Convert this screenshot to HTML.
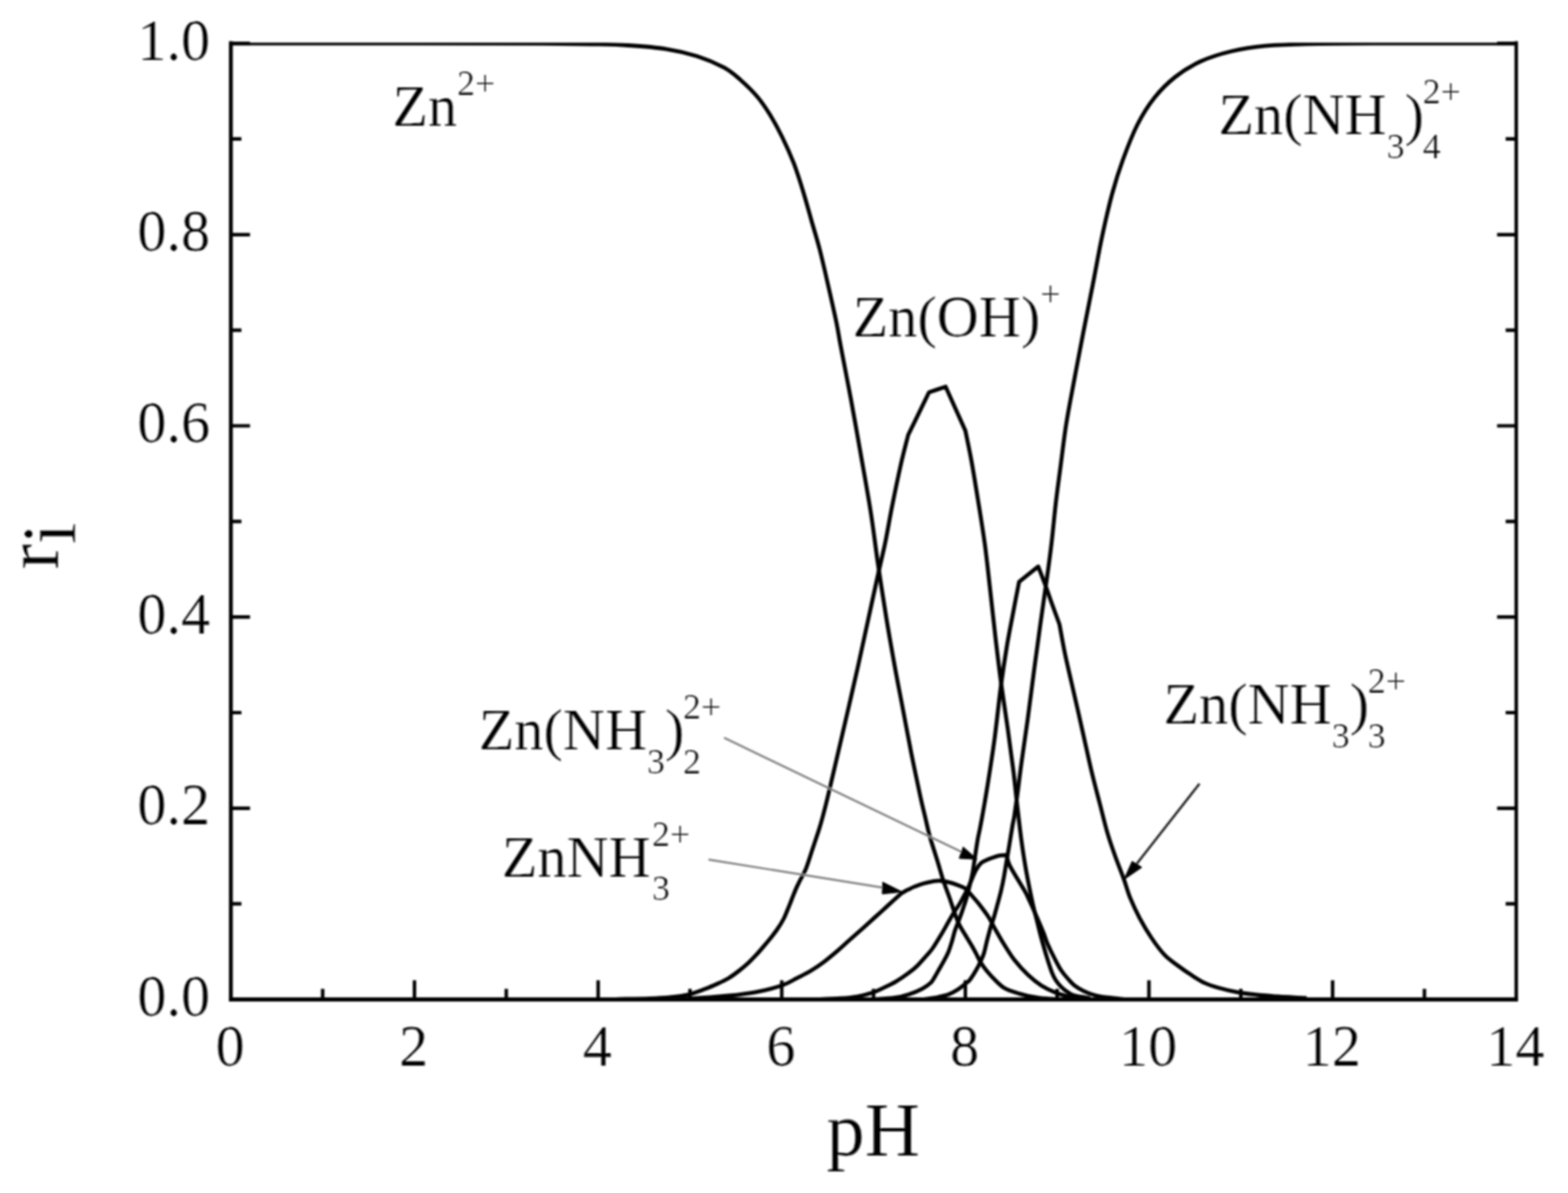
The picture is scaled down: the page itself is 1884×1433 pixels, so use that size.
<!DOCTYPE html>
<html lang="en">
<head>
<meta charset="utf-8">
<title>Zinc species distribution versus pH</title>
<style>
html,body{margin:0;padding:0;background:#fff;}
body{width:1884px;height:1433px;overflow:hidden;}
svg{display:block;}
text{font-family:"Liberation Serif","Times New Roman",serif;fill:#000;stroke:#fff;stroke-width:0.2;}
.t{font-size:70px;}
.s{font-size:43px;}
.a{font-size:92px;}
.c{fill:none;stroke:#000;stroke-width:4.8;stroke-linejoin:round;stroke-linecap:butt;}
.ax{fill:none;stroke:#000;stroke-linecap:butt;}
.ar{fill:none;stroke:#555;stroke-width:2.4;}
</style>
</head>
<body>
<svg xmlns="http://www.w3.org/2000/svg" width="1884" height="1433" viewBox="0 0 1884 1433">
<rect x="0" y="0" width="1884" height="1433" fill="#fff"/>
<defs><filter id="b" x="-2%" y="-2%" width="104%" height="104%"><feGaussianBlur stdDeviation="1.2"/></filter></defs>
<g filter="url(#b)">
<clipPath id="cp"><rect x="277.4" y="51.3" width="1544.4" height="1152.2"/></clipPath>
<g clip-path="url(#cp)">
<path class="c" d="M270.0 52.1C308.3 52.1 436.7 52.1 500.0 52.1C563.3 52.1 615.0 52.2 650.0 52.4C685.0 52.5 692.5 52.6 710.0 53.0C727.5 53.4 740.0 53.5 755.0 54.5C770.0 55.5 786.2 56.6 800.0 58.8C813.8 60.9 825.8 63.8 837.5 67.5C849.2 71.2 861.2 76.5 870.0 81.2C878.8 86.0 883.3 90.4 890.0 96.2C896.7 102.1 904.2 109.4 910.0 116.2C915.8 123.1 920.0 129.4 925.0 137.5C930.0 145.6 935.2 155.2 940.0 165.0C944.8 174.8 949.6 185.4 953.8 196.2C957.9 207.1 961.5 218.5 965.0 230.0C968.5 241.5 971.7 253.3 975.0 265.0C978.3 276.7 981.7 287.1 985.0 300.0C988.3 312.9 991.7 327.9 995.0 342.5C998.3 357.1 1002.5 375.4 1005.0 387.5C1007.5 399.6 1007.1 399.6 1010.0 415.0C1012.9 430.4 1018.3 457.5 1022.5 480.0C1026.7 502.5 1031.0 527.5 1035.0 550.0C1039.0 572.5 1042.9 593.7 1046.2 615.0C1049.6 636.3 1051.9 656.8 1055.0 678.0C1058.1 699.2 1061.7 722.2 1065.0 742.5C1068.3 762.8 1071.7 781.7 1075.0 800.0C1078.3 818.3 1081.7 835.0 1085.0 852.5C1088.3 870.0 1091.5 887.5 1095.0 905.0C1098.5 922.5 1103.2 944.5 1106.0 957.5C1108.8 970.5 1110.2 975.2 1112.0 983.0C1113.8 990.8 1114.7 995.7 1117.0 1004.0C1119.3 1012.3 1123.2 1024.0 1126.0 1033.0C1128.8 1042.0 1131.0 1050.4 1133.5 1058.0C1136.0 1065.6 1138.6 1071.8 1141.0 1078.7C1143.4 1085.7 1146.1 1094.2 1148.1 1099.7C1150.1 1105.2 1151.0 1107.5 1152.9 1111.4C1154.9 1115.3 1157.3 1118.9 1159.8 1123.1C1162.3 1127.2 1165.6 1132.5 1167.8 1136.3C1170.0 1140.1 1171.3 1142.6 1173.1 1146.0C1174.9 1149.4 1176.4 1153.0 1178.6 1156.5C1180.8 1160.0 1183.4 1163.5 1186.5 1167.2C1189.6 1170.9 1194.1 1175.7 1197.2 1178.8C1200.3 1181.9 1202.4 1183.9 1205.1 1185.7C1207.8 1187.5 1210.0 1188.5 1213.1 1189.8C1216.2 1191.0 1220.2 1192.2 1223.7 1193.2C1227.2 1194.2 1229.9 1195.1 1234.3 1196.0C1238.7 1196.9 1243.2 1198.0 1250.0 1198.8C1256.8 1199.5 1270.8 1200.2 1275.0 1200.5"/>
<path class="c" d="M740.0 1200.3C746.7 1200.1 769.2 1199.7 780.0 1199.3C790.8 1198.9 797.0 1198.6 805.0 1197.8C813.0 1197.0 820.7 1196.2 827.8 1194.5C834.9 1192.8 841.6 1190.0 847.6 1187.8C853.6 1185.5 858.9 1183.1 863.5 1181.0C868.1 1178.9 871.4 1177.4 875.4 1175.0C879.4 1172.6 883.4 1169.6 887.4 1166.5C891.4 1163.4 895.5 1160.0 899.3 1156.5C903.1 1153.0 906.2 1149.6 910.0 1145.5C913.8 1141.4 917.8 1136.5 921.8 1131.7C925.8 1126.9 930.4 1121.2 933.7 1116.5C937.0 1111.8 939.6 1107.5 941.7 1103.5C943.8 1099.5 944.8 1096.3 946.4 1092.5C948.0 1088.7 949.6 1084.5 951.2 1080.5C952.8 1076.5 954.5 1072.1 956.0 1068.5C957.5 1064.9 958.5 1063.1 960.5 1059.0C962.5 1054.9 965.7 1050.2 968.3 1043.7C970.9 1037.2 973.6 1027.8 976.3 1019.8C978.9 1011.8 982.1 1002.5 984.2 995.9C986.3 989.3 987.1 986.4 988.8 980.0C990.5 973.6 991.5 970.0 994.5 957.5C997.5 945.0 1002.7 922.5 1006.8 905.0C1010.9 887.5 1015.0 870.0 1019.0 852.5C1023.0 835.0 1027.0 817.9 1031.0 800.0C1035.0 782.1 1039.0 763.3 1043.0 745.0C1047.0 726.7 1051.5 705.8 1055.0 690.0C1058.5 674.2 1061.2 663.8 1064.0 650.0C1066.8 636.2 1068.9 622.9 1072.0 607.5C1075.1 592.1 1079.3 571.7 1082.5 557.5C1085.7 543.3 1089.8 528.3 1091.2 522.5C1095.4 514.0 1112.1 479.8 1116.2 471.2C1119.6 470.1 1132.9 465.6 1136.2 464.5C1140.2 473.3 1156.0 508.7 1160.0 517.5C1161.2 523.8 1164.9 540.4 1167.5 555.0C1170.1 569.6 1173.1 588.3 1175.8 605.0C1178.5 621.7 1181.2 637.9 1183.5 655.0C1185.8 672.1 1187.5 689.2 1189.6 707.5C1191.7 725.8 1193.8 746.2 1196.0 765.0C1198.2 783.8 1200.3 801.7 1202.8 820.0C1205.3 838.3 1208.3 857.5 1210.8 875.0C1213.2 892.5 1215.5 909.2 1217.5 925.0C1219.5 940.8 1220.9 956.0 1222.5 970.0C1224.1 984.0 1225.6 997.2 1227.2 1009.0C1228.8 1020.8 1230.4 1031.0 1232.0 1040.5C1233.6 1050.0 1235.2 1058.0 1236.8 1066.0C1238.4 1074.0 1239.9 1081.4 1241.5 1088.3C1243.1 1095.2 1244.7 1101.0 1246.3 1107.4C1247.9 1113.8 1249.2 1119.6 1251.1 1126.5C1253.0 1133.4 1255.4 1141.9 1257.5 1148.8C1259.6 1155.7 1262.0 1163.1 1263.8 1167.9C1265.6 1172.7 1266.7 1174.6 1268.6 1177.5C1270.5 1180.4 1272.6 1183.0 1275.0 1185.4C1277.4 1187.8 1280.3 1190.1 1283.0 1191.8C1285.7 1193.5 1286.4 1194.6 1290.9 1195.8C1295.4 1197.0 1306.8 1198.5 1310.0 1199.0"/>
<path class="c" d="M800.0 1200.5C805.0 1200.3 817.4 1200.2 830.0 1199.5C842.6 1198.8 862.6 1197.3 875.5 1196.0C888.4 1194.7 896.8 1193.8 907.4 1191.8C918.0 1189.8 930.8 1186.6 939.2 1183.8C947.6 1181.0 951.9 1177.7 957.6 1174.8C963.3 1171.9 968.2 1169.7 973.5 1166.5C978.8 1163.3 984.1 1159.8 989.4 1155.8C994.7 1151.8 1000.3 1147.1 1005.4 1142.8C1010.5 1138.5 1015.0 1134.2 1020.0 1129.8C1025.0 1125.4 1030.1 1120.9 1035.3 1116.3C1040.5 1111.7 1045.9 1106.7 1051.2 1101.9C1056.5 1097.1 1061.9 1092.2 1067.2 1087.4C1072.5 1082.6 1080.4 1075.4 1083.1 1073.0C1084.4 1072.3 1088.3 1070.0 1091.0 1068.7C1093.7 1067.4 1095.9 1066.2 1099.0 1064.9C1102.1 1063.7 1106.1 1062.2 1109.6 1061.2C1113.1 1060.2 1116.8 1059.3 1120.2 1058.8C1123.6 1058.3 1126.8 1057.8 1130.0 1058.0C1133.2 1058.2 1136.2 1058.9 1139.6 1059.7C1143.0 1060.5 1146.8 1061.6 1150.2 1062.9C1153.6 1064.2 1157.2 1065.4 1160.0 1067.4C1162.8 1069.4 1164.5 1072.1 1167.0 1075.0C1169.5 1077.9 1171.8 1080.3 1175.2 1084.6C1178.6 1088.9 1184.0 1095.9 1187.4 1101.0C1190.8 1106.1 1192.2 1109.8 1195.4 1115.4C1198.6 1121.0 1202.5 1128.1 1206.5 1134.5C1210.5 1140.9 1214.4 1147.5 1219.2 1153.6C1224.0 1159.7 1229.9 1166.1 1235.2 1171.1C1240.5 1176.1 1245.8 1180.3 1251.1 1183.8C1256.4 1187.2 1261.7 1189.6 1267.0 1191.8C1272.3 1194.0 1275.8 1195.4 1283.0 1196.8C1290.2 1198.2 1305.5 1199.5 1310.0 1200.0"/>
<path class="c" d="M980.0 1200.5C985.0 1200.3 1001.7 1199.8 1010.0 1199.2C1018.3 1198.6 1023.7 1198.1 1030.0 1197.0C1036.3 1195.9 1042.8 1194.1 1047.8 1192.5C1052.8 1190.9 1055.3 1189.5 1060.0 1187.3C1064.7 1185.1 1070.6 1182.5 1075.9 1179.4C1081.2 1176.3 1087.4 1172.0 1091.8 1168.7C1096.2 1165.4 1099.0 1163.2 1102.5 1159.7C1106.0 1156.2 1110.0 1151.5 1113.1 1148.0C1116.2 1144.5 1118.1 1142.7 1121.0 1138.5C1123.9 1134.3 1127.2 1128.8 1130.6 1123.1C1134.0 1117.4 1138.5 1109.1 1141.2 1104.5C1143.9 1099.9 1144.7 1098.3 1146.5 1095.5C1148.3 1092.7 1150.0 1090.4 1151.8 1087.5C1153.6 1084.6 1155.6 1080.9 1157.2 1078.0C1158.8 1075.1 1159.9 1073.0 1161.4 1070.0C1162.9 1067.0 1164.4 1063.6 1166.0 1060.0C1167.6 1056.4 1169.4 1051.8 1171.0 1048.5C1172.6 1045.2 1174.2 1042.5 1175.5 1040.5C1176.8 1038.5 1178.4 1037.2 1179.0 1036.5C1179.6 1036.1 1180.2 1035.4 1182.5 1034.3C1184.8 1033.2 1190.0 1031.1 1193.1 1030.0C1196.2 1028.9 1198.3 1028.1 1201.0 1027.6C1203.7 1027.1 1207.9 1027.1 1209.3 1027.0C1209.8 1028.8 1210.9 1034.2 1212.5 1038.0C1214.1 1041.8 1216.4 1045.4 1218.8 1049.5C1221.2 1053.6 1224.5 1059.0 1226.8 1062.8C1229.1 1066.6 1230.7 1069.1 1232.5 1072.5C1234.3 1075.9 1235.7 1079.2 1237.5 1083.0C1239.3 1086.8 1241.2 1091.2 1243.1 1095.5C1245.0 1099.8 1247.2 1104.8 1249.0 1109.0C1250.8 1113.2 1252.3 1116.8 1254.0 1121.0C1255.7 1125.2 1256.8 1129.5 1259.0 1134.5C1261.2 1139.5 1264.3 1145.8 1267.0 1151.0C1269.7 1156.2 1272.3 1161.4 1275.0 1165.5C1277.7 1169.6 1280.3 1172.5 1283.0 1175.5C1285.7 1178.5 1287.7 1181.1 1290.9 1183.6C1294.1 1186.1 1298.0 1188.5 1302.0 1190.4C1306.0 1192.4 1310.0 1194.0 1314.8 1195.3C1319.6 1196.6 1324.8 1197.4 1330.7 1198.2C1336.6 1199.0 1346.8 1199.9 1350.0 1200.2"/>
<path class="c" d="M1050.0 1200.5C1054.2 1200.2 1068.0 1199.5 1075.0 1198.5C1082.0 1197.5 1086.3 1196.3 1091.8 1194.5C1097.3 1192.7 1103.4 1190.1 1107.8 1187.8C1112.2 1185.5 1115.8 1183.0 1118.4 1180.4C1121.1 1177.9 1121.9 1175.4 1123.7 1172.5C1125.5 1169.6 1127.2 1166.3 1129.0 1163.2C1130.8 1160.1 1132.5 1157.2 1134.3 1153.9C1136.1 1150.6 1138.0 1147.2 1139.6 1143.3C1141.2 1139.4 1142.6 1134.7 1143.9 1130.5C1145.2 1126.3 1145.9 1122.3 1147.3 1118.0C1148.7 1113.7 1150.8 1109.0 1152.5 1104.5C1154.2 1100.0 1155.8 1095.5 1157.2 1091.2C1158.7 1087.0 1160.0 1083.2 1161.2 1079.0C1162.4 1074.8 1163.2 1071.2 1164.5 1066.0C1165.8 1060.8 1167.5 1054.4 1168.7 1047.8C1169.9 1041.2 1170.9 1033.1 1171.9 1026.5C1172.9 1019.9 1173.9 1013.2 1174.8 1008.0C1175.7 1002.8 1176.6 999.7 1177.5 995.0C1178.4 990.3 1179.0 987.5 1180.3 980.0C1181.6 972.5 1183.0 965.4 1185.5 950.0C1188.0 934.6 1192.2 908.3 1195.0 887.5C1197.8 866.7 1200.0 843.8 1202.5 825.0C1205.0 806.2 1207.5 790.0 1210.0 775.0C1212.5 760.0 1215.1 747.7 1217.5 735.0C1219.9 722.3 1223.3 704.8 1224.5 698.8C1228.3 695.7 1243.7 683.5 1247.5 680.5C1248.8 684.0 1252.8 694.2 1255.5 701.4C1258.2 708.6 1260.5 715.6 1263.4 723.7C1266.3 731.8 1271.4 745.6 1273.0 750.0C1274.1 755.7 1277.0 772.7 1279.4 784.2C1281.8 795.7 1284.6 807.4 1287.3 819.2C1290.0 831.0 1292.8 842.9 1295.5 855.0C1298.2 867.1 1301.0 879.5 1303.7 891.8C1306.5 904.0 1309.1 916.5 1312.0 928.5C1314.9 940.5 1317.9 951.6 1321.0 963.5C1324.1 975.4 1327.4 989.5 1330.5 1000.1C1333.6 1010.7 1336.2 1017.9 1339.5 1027.2C1342.8 1036.5 1347.2 1047.3 1350.3 1055.9C1353.4 1064.5 1354.8 1070.9 1358.0 1078.7C1361.2 1086.5 1365.0 1094.6 1369.2 1102.6C1373.5 1110.6 1378.5 1119.1 1383.5 1126.5C1388.5 1133.9 1394.1 1141.6 1399.4 1147.2C1404.7 1152.8 1410.1 1156.0 1415.4 1160.0C1420.7 1164.0 1426.0 1167.7 1431.3 1171.1C1436.6 1174.5 1441.9 1178.1 1447.2 1180.6C1452.5 1183.1 1456.5 1184.3 1463.1 1186.2C1469.7 1188.1 1479.0 1190.3 1487.0 1191.8C1495.0 1193.3 1502.9 1194.1 1510.9 1195.0C1518.9 1195.9 1525.0 1196.3 1534.8 1197.0C1544.6 1197.7 1564.1 1198.7 1570.0 1199.0"/>
<path class="c" d="M1110.0 1200.5C1113.0 1200.0 1123.1 1198.5 1128.0 1197.5C1132.9 1196.5 1135.9 1195.9 1139.6 1194.5C1143.3 1193.1 1146.8 1191.2 1150.2 1189.0C1153.6 1186.8 1157.5 1183.5 1160.0 1181.5C1162.5 1179.5 1163.1 1179.8 1165.3 1177.0C1167.5 1174.2 1171.1 1168.3 1173.3 1164.5C1175.5 1160.7 1177.1 1157.2 1178.6 1153.9C1180.1 1150.6 1181.1 1148.8 1182.4 1144.5C1183.7 1140.2 1184.9 1133.7 1186.3 1128.4C1187.7 1123.1 1189.3 1117.0 1190.6 1112.5C1191.9 1108.0 1193.0 1105.9 1194.3 1101.5C1195.6 1097.1 1197.2 1091.2 1198.6 1085.9C1200.0 1080.7 1201.5 1075.5 1202.8 1070.0C1204.1 1064.5 1205.3 1058.6 1206.3 1053.1C1207.3 1047.6 1208.1 1042.5 1209.0 1037.2C1209.9 1031.9 1210.8 1026.5 1211.7 1021.2C1212.6 1015.9 1213.5 1010.2 1214.3 1005.3C1215.1 1000.4 1215.8 996.2 1216.5 992.0C1217.2 987.8 1217.9 985.8 1218.8 980.0C1219.7 974.2 1220.5 968.3 1222.0 957.5C1223.5 946.7 1225.3 930.8 1227.5 915.0C1229.7 899.2 1232.5 880.8 1235.0 862.5C1237.5 844.2 1240.0 823.8 1242.5 805.0C1245.0 786.2 1247.5 767.9 1250.0 750.0C1252.5 732.1 1255.2 713.8 1257.5 697.5C1259.8 681.2 1261.7 667.4 1263.5 652.0C1265.3 636.6 1266.8 619.9 1268.5 605.0C1270.2 590.1 1271.9 578.3 1274.0 562.5C1276.1 546.7 1278.2 527.9 1281.0 510.0C1283.8 492.1 1287.6 473.3 1291.0 455.0C1294.4 436.7 1297.8 418.8 1301.5 400.0C1305.2 381.2 1309.2 361.2 1313.0 342.0C1316.8 322.8 1320.1 303.3 1324.0 285.0C1327.9 266.7 1332.3 247.4 1336.5 232.0C1340.7 216.6 1344.0 206.2 1349.0 192.5C1354.0 178.8 1360.2 162.5 1366.5 150.0C1372.8 137.5 1379.4 127.1 1387.0 117.5C1394.6 107.9 1402.8 99.8 1412.0 92.5C1421.2 85.2 1430.7 79.2 1442.0 74.0C1453.3 68.8 1467.0 64.6 1480.0 61.5C1493.0 58.4 1505.0 56.7 1520.0 55.2C1535.0 53.8 1548.3 53.3 1570.0 52.8C1591.7 52.3 1606.7 52.2 1650.0 52.1C1693.3 52.0 1800.0 52.1 1830.0 52.1"/>
</g>
<path class="ar" style="stroke:#808080;stroke-width:2.4" d="M870.0 886.2 L1155.5 1023.4"/>
<path fill="#000" stroke="#000" stroke-width="1" stroke-linejoin="round" d="M1174.0 1032.2 L1157.3 1017.3 L1152.5 1031.0 Z"/>
<path class="ar" style="stroke:#808080;stroke-width:2.4" d="M851.3 1032.5 L1061.0 1066.3"/>
<path fill="#000" stroke="#000" stroke-width="1" stroke-linejoin="round" d="M1084.0 1071.3 L1060.6 1059.6 L1060.0 1073.8 Z"/>
<path class="ar" style="stroke:#1c1c1c;stroke-width:2.7" d="M1441.2 941.4 L1366.0 1037.3"/>
<path fill="#000" stroke="#000" stroke-width="1" stroke-linejoin="round" d="M1350.4 1056.6 L1360.3 1034.6 L1372.0 1041.8 Z"/>
<path class="ax" stroke-width="4.6" d="M277.4 49.5 V1203.1"/>
<path class="ax" stroke-width="5.2" d="M275.1 1200.5 H1823.9"/>
<path class="ax" stroke-width="4.2" d="M1821.8 49.5 V1203.1"/>
<path class="ax" stroke-width="4.2" d="M277.4 1085.7 h12.7M1821.8 1085.7 h-12.7M277.4 970.8 h23.0M1821.8 970.8 h-23.0M277.4 856.0 h12.7M1821.8 856.0 h-12.7M277.4 741.1 h23.0M1821.8 741.1 h-23.0M277.4 626.3 h12.7M1821.8 626.3 h-12.7M277.4 511.5 h23.0M1821.8 511.5 h-23.0M277.4 396.6 h12.7M1821.8 396.6 h-12.7M277.4 281.8 h23.0M1821.8 281.8 h-23.0M277.4 166.9 h12.7M1821.8 166.9 h-12.7M277.4 52.1 h23.0M1821.8 52.1 h-23.0M387.7 1200.5 v-12.7M498.0 1200.5 v-23.0M608.3 1200.5 v-12.7M718.7 1200.5 v-23.0M829.0 1200.5 v-12.7M939.3 1200.5 v-23.0M1049.6 1200.5 v-12.7M1159.9 1200.5 v-23.0M1270.2 1200.5 v-12.7M1380.5 1200.5 v-23.0M1490.9 1200.5 v-12.7M1601.2 1200.5 v-23.0M1711.5 1200.5 v-12.7"/>
<text class="t" x="252.5" y="1220.0" text-anchor="end">0.0</text>
<text class="t" x="252.5" y="990.3" text-anchor="end">0.2</text>
<text class="t" x="252.5" y="760.6" text-anchor="end">0.4</text>
<text class="t" x="252.5" y="531.0" text-anchor="end">0.6</text>
<text class="t" x="252.5" y="301.3" text-anchor="end">0.8</text>
<text class="t" x="252.5" y="71.6" text-anchor="end">1.0</text>
<text class="t" x="276.4" y="1280.0" text-anchor="middle">0</text>
<text class="t" x="497.0" y="1280.0" text-anchor="middle">2</text>
<text class="t" x="717.7" y="1280.0" text-anchor="middle">4</text>
<text class="t" x="938.3" y="1280.0" text-anchor="middle">6</text>
<text class="t" x="1158.9" y="1280.0" text-anchor="middle">8</text>
<text class="t" x="1379.5" y="1280.0" text-anchor="middle">10</text>
<text class="t" x="1600.2" y="1280.0" text-anchor="middle">12</text>
<text class="t" x="1820.8" y="1280.0" text-anchor="middle">14</text>
<text class="a" x="993.0" y="1388.0">pH</text>
<g transform="translate(70.0 684.0) rotate(-90)"><text class="a" x="0" y="0">r</text><text class="a" x="30.6" y="20.0">i</text></g>
<text class="t" x="471.5" y="151.2">Zn</text>
<text class="s" x="549.3" y="114.2">2+</text>
<text class="t" x="1464.0" y="161.2">Zn(NH</text>
<text class="s" x="1666.2" y="189.9">3</text>
<text class="t" x="1687.7" y="161.2">)</text>
<text class="s" x="1709.5" y="124.2">2+</text>
<text class="s" x="1709.5" y="189.9">4</text>
<text class="t" x="1024.5" y="403.8">Zn(OH)</text>
<text class="s" x="1250.0" y="366.8">+</text>
<text class="t" x="1398.0" y="869.0">Zn(NH</text>
<text class="s" x="1600.2" y="897.7">3</text>
<text class="t" x="1621.7" y="869.0">)</text>
<text class="s" x="1643.5" y="832.0">2+</text>
<text class="s" x="1643.5" y="897.7">3</text>
<text class="t" x="575.3" y="900.3">Zn(NH</text>
<text class="s" x="777.5" y="929.0">3</text>
<text class="t" x="799.0" y="900.3">)</text>
<text class="s" x="820.8" y="863.3">2+</text>
<text class="s" x="820.8" y="929.0">2</text>
<text class="t" x="603.0" y="1052.5">ZnNH</text>
<text class="s" x="783.4" y="1015.5">2+</text>
<text class="s" x="783.4" y="1081.2">3</text>
</g>
</svg>
</body>
</html>
